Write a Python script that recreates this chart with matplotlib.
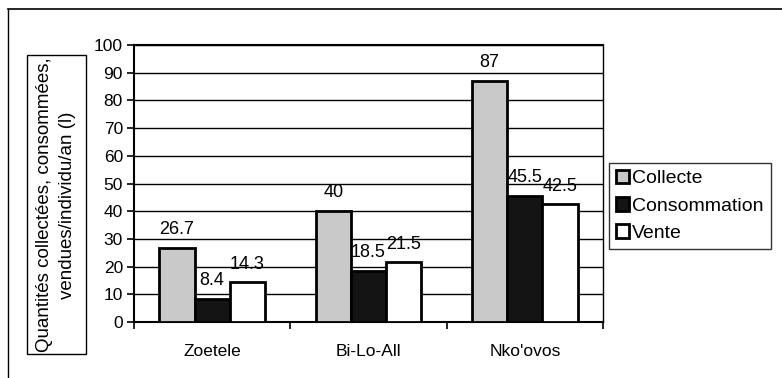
import matplotlib
matplotlib.use("Agg")
import matplotlib.pyplot as plt
from matplotlib.patches import Rectangle
from matplotlib.lines import Line2D
import numpy as np

plt.rcParams["font.family"] = ["Liberation Sans", "DejaVu Sans"]

# Quantities per person and per year, by village
villages = ["Zoetele", "Bi-Lo-All", "Nko'ovos"]
collecte = [26.7, 40, 87]
consommation = [8.4, 18.5, 45.5]
vente = [14.3, 21.5, 42.5]
series_names = ["Collecte", "Consommation", "Vente"]
colors = ["#c9c9c9", "#141414", "#ffffff"]

fig = plt.figure(figsize=(7.82, 3.78), dpi=100)
W, H = 782, 378
ax = fig.add_axes([134 / W, 1 - 322 / H, (603 - 134) / W, (322 - 45) / H])

x = np.arange(len(villages))
width = 0.225
for i, (vals, name, col) in enumerate(zip([collecte, consommation, vente], series_names, colors)):
    pos = x + (i - 1) * width
    bars = ax.bar(pos, vals, width, color=col, edgecolor="black", linewidth=2.0,
                  label=name, zorder=3)
    for b, v in zip(bars, vals):
        ax.annotate(f"{v:g}", (b.get_x() + b.get_width() / 2, v),
                    xytext=(0, 7), textcoords="offset points",
                    ha="center", va="bottom", fontsize=13, zorder=4)

ax.set_ylim(0, 100)
ax.set_yticks(range(0, 101, 10))
ax.set_xlim(-0.5, 2.5)
ax.set_xticks(x)
ax.set_xticklabels(villages, fontsize=12.5)
ax.set_xticks([-0.5, 0.5, 1.5, 2.5], minor=True)
ax.tick_params(axis="x", which="major", length=0, pad=16)
ax.tick_params(axis="x", which="minor", length=5, width=1.2, direction="out")
ax.tick_params(axis="y", length=5, width=1.2, labelsize=12.5, pad=3)
ax.yaxis.grid(True, color="black", linewidth=1.0, zorder=0)
ax.set_axisbelow(True)
for side, sp in ax.spines.items():
    sp.set_color("black")
    sp.set_linewidth(1.0)
ax.spines["left"].set_linewidth(1.5)
ax.spines["bottom"].set_linewidth(1.5)
ax.spines["top"].set_linewidth(1.5)

# boxed y-axis title
fig.patches.append(Rectangle((27 / W, 1 - 354 / H), 59 / W, (354 - 55) / H,
                             transform=fig.transFigure, fill=False,
                             edgecolor="black", linewidth=1.0))
fig.text(56 / W, 1 - 205 / H,
         "Quantités collectées, consommées,\nvendues/individu/an (l)",
         rotation=90, ha="center", va="center", fontsize=13.5,
         multialignment="center", linespacing=1.45)

# outer chart frame (top and left edges)
fig.add_artist(Line2D([8 / W, 1], [1 - 9 / H, 1 - 9 / H], transform=fig.transFigure,
                      color="black", linewidth=1.2))
fig.add_artist(Line2D([8 / W, 8 / W], [0, 1 - 9 / H], transform=fig.transFigure,
                      color="black", linewidth=1.0))

leg = fig.legend(loc="upper left", bbox_to_anchor=(609 / W, 1 - 163 / H),
                 fontsize=14, frameon=True, fancybox=False, handlelength=0.7,
                 handleheight=0.7, handletextpad=0.15, borderpad=0.35,
                 labelspacing=0.5, borderaxespad=0)
leg.get_frame().set_edgecolor("black")
leg.get_frame().set_linewidth(1.0)

fig.savefig("out.png", dpi=100)
